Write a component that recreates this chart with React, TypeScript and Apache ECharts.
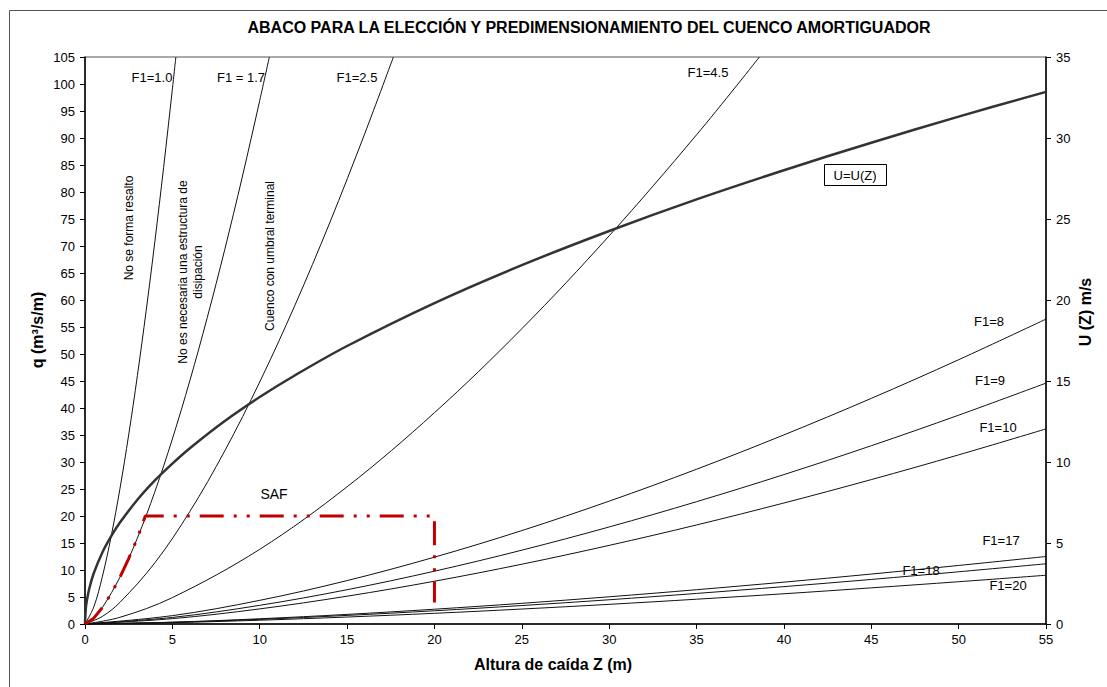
import React, { useEffect, useRef } from "react";
import * as echarts from "echarts";

// ---- Data (Z in m, q in m3/s/m, U in m/s) ----
const zF1_10 = [0, 0.5, 1, 1.5, 2, 2.5, 3, 3.5, 4, 4.5, 5, 5.2];
const qF1_10 = [0, 3.13, 8.86, 16.28, 25.06, 35.02, 46.03, 58.0, 70.87, 84.57, 99.04, 105];

const zF1_17 = [0, 0.5, 1, 2, 3, 4, 5, 6, 7, 8, 9, 10, 10.55];
const qF1_17 = [0, 1.08, 3.07, 8.67, 15.93, 24.52, 34.27, 45.05, 56.78, 69.36, 82.77, 96.94, 105];

const zF1_25 = [0, 1, 2, 4, 6, 8, 10, 12, 14, 16, 17.65];
const qF1_25 = [0, 1.42, 4.01, 11.34, 20.83, 32.07, 44.82, 58.92, 74.25, 90.72, 105];

const zF1_45 = [0, 2, 5, 10, 15, 20, 25, 30, 35, 38.6];
const qF1_45 = [0, 1.24, 4.89, 13.83, 25.41, 39.13, 54.68, 71.89, 90.59, 105];

const zWide = [0, 5, 10, 15, 20, 25, 30, 35, 40, 45, 50, 55];
const qF1_8 = [0, 1.55, 4.38, 8.04, 12.38, 17.3, 22.75, 28.66, 35.02, 41.78, 48.94, 56.46];
const qF1_9 = [0, 1.22, 3.46, 6.35, 9.78, 13.67, 17.97, 22.65, 27.67, 33.01, 38.67, 44.61];
const qF1_10b = [0, 0.99, 2.8, 5.15, 7.92, 11.07, 14.56, 18.34, 22.41, 26.74, 31.32, 36.13];
const qF1_17b = [0, 0.34, 0.97, 1.78, 2.74, 3.83, 5.04, 6.35, 7.75, 9.25, 10.84, 12.5];
const qF1_18 = [0, 0.31, 0.86, 1.59, 2.45, 3.42, 4.49, 5.66, 6.92, 8.25, 9.67, 11.15];
const qF1_20 = [0, 0.25, 0.7, 1.29, 1.98, 2.77, 3.64, 4.59, 5.6, 6.69, 7.83, 9.03];

const zU = [0, 0.05, 0.1, 0.25, 0.5, 1, 1.5, 2, 3, 4, 5, 6, 8, 10, 12, 15, 20, 25, 30, 35, 40, 45, 50, 55];
const uZ = [0, 0.99, 1.4, 2.21, 3.13, 4.43, 5.42, 6.26, 7.67, 8.86, 9.9, 10.85, 12.53, 14.01, 15.34, 17.16, 19.81, 22.15, 24.26, 26.21, 28.01, 29.71, 31.32, 32.85];

const zExample = [0, 0.5, 1, 1.5, 2, 2.5, 3, 3.45, 20, 20];
const qExample = [0, 1.08, 3.07, 5.63, 8.67, 12.12, 15.93, 20, 20, 4];

const FONT = '"Liberation Sans", Arial, Helvetica, sans-serif';

export default function App() {
  const ref = useRef<HTMLDivElement>(null);

  useEffect(() => {
    if (!ref.current) return;
    const chart = echarts.init(ref.current, undefined, { renderer: "svg" });

    const curve = (name: string, zs: number[], vs: number[], opts: any = {}) => ({
      name,
      type: "line",
      yAxisIndex: opts.yAxisIndex ?? 0,
      data: zs.map((z, i) => [z, vs[i]]),
      showSymbol: false,
      symbol: "none",
      silent: true,
      smooth: opts.smooth ?? 0.35,
      z: opts.z ?? 3,
      lineStyle: {
        color: opts.color ?? "#111",
        width: opts.width ?? 1,
        type: opts.type ?? "solid",
        cap: "butt",
      },
    });

    const txt = (x: number, y: number, text: string, size: number, o: any = {}) => ({
      type: "text",
      x,
      y,
      rotation: o.rotation ?? 0,
      z: o.z ?? 1,
      style: {
        text,
        fill: "#000",
        font: `${o.bold ? "bold " : ""}${size}px ${FONT}`,
        align: o.align ?? "center",
        textAlign: o.align ?? "center",
        verticalAlign: "middle",
        textVerticalAlign: "middle",
        lineHeight: o.lineHeight ?? size * 1.2,
      },
    });

    const axisCommon = {
      axisLine: { show: true, lineStyle: { color: "#000", width: 1.5 } },
      axisTick: { show: true, length: 5, lineStyle: { color: "#000", width: 1 } },
      axisLabel: { color: "#000", fontSize: 13, fontFamily: FONT },
      splitLine: { show: false },
    };

    chart.setOption({
      animation: false,
      backgroundColor: "#fff",
      grid: {
        left: 85,
        right: 61,
        top: 57,
        bottom: 63,
        show: true,
        borderColor: "#555",
        borderWidth: 1,
        backgroundColor: "transparent",
      },
      xAxis: {
        type: "value",
        min: 0,
        max: 55,
        interval: 5,
        ...axisCommon,
        axisLabel: { ...axisCommon.axisLabel, margin: 9 },
      },
      yAxis: [
        {
          type: "value",
          min: 0,
          max: 105,
          interval: 5,
          position: "left",
          ...axisCommon,
          axisLabel: { ...axisCommon.axisLabel, margin: 10 },
        },
        {
          type: "value",
          min: 0,
          max: 35,
          interval: 5,
          position: "right",
          ...axisCommon,
          axisLabel: { ...axisCommon.axisLabel, margin: 10 },
        },
      ],
      series: [
        curve("F1=1.0", zF1_10, qF1_10),
        curve("F1=1.7", zF1_17, qF1_17),
        curve("F1=2.5", zF1_25, qF1_25),
        curve("F1=4.5", zF1_45, qF1_45),
        curve("F1=8", zWide, qF1_8),
        curve("F1=9", zWide, qF1_9),
        curve("F1=10", zWide, qF1_10b),
        curve("F1=17", zWide, qF1_17b),
        curve("F1=18", zWide, qF1_18),
        curve("F1=20", zWide, qF1_20),
        curve("U=U(Z)", zU, uZ, { yAxisIndex: 1, width: 2.5, color: "#333", z: 4 }),
        curve("SAF", zExample, qExample, {
          color: "#c00000",
          width: 3,
          type: [24, 10, 3, 10, 3, 10],
          z: 5,
          smooth: false,
        }),
      ],
      graphic: [
        {
          type: "rect",
          z: 0,
          shape: { x: 9.5, y: 10.5, width: 1110, height: 700 },
          style: { fill: "none", stroke: "#555", lineWidth: 1 },
        },
        txt(589, 27, "ABACO PARA LA ELECCIÓN Y PREDIMENSIONAMIENTO DEL CUENCO AMORTIGUADOR", 16, { bold: true }),
        txt(553, 664, "Altura de caída Z (m)", 16, { bold: true }),
        txt(37, 330, "q (m³/s/m)", 16, { bold: true, rotation: Math.PI / 2 }),
        txt(1085, 312, "U (Z) m/s", 16, { bold: true, rotation: Math.PI / 2 }),
        txt(152, 77, "F1=1.0", 13),
        txt(241, 77, "F1 = 1.7", 13),
        txt(357, 77, "F1=2.5", 13),
        txt(708, 72, "F1=4.5", 13),
        {
          type: "rect",
          z: 6,
          shape: { x: 824.5, y: 164.5, width: 62, height: 21 },
          style: { fill: "#fff", stroke: "#000", lineWidth: 1 },
        },
        txt(855, 175, "U=U(Z)", 13, { z: 7 }),
        txt(989, 321, "F1=8", 13),
        txt(990, 380, "F1=9", 13),
        txt(998, 427, "F1=10", 13),
        txt(1001, 540, "F1=17", 13),
        txt(921, 570, "F1=18", 13),
        txt(1008, 585, "F1=20", 13),
        txt(274, 494, "SAF", 14),
        txt(129, 228, "No se forma resalto", 12, { rotation: Math.PI / 2 }),
        txt(190, 272, "No es necesaria una estructura de\ndisipación", 12, { rotation: Math.PI / 2, lineHeight: 15 }),
        txt(270, 256, "Cuenco con umbral terminal", 12, { rotation: Math.PI / 2 }),
      ],
    });

    return () => chart.dispose();
  }, []);

  return (
    <div
      ref={ref}
      style={{ position: "fixed", left: 0, top: 0, width: 1107, height: 687, background: "#fff" }}
    />
  );
}
